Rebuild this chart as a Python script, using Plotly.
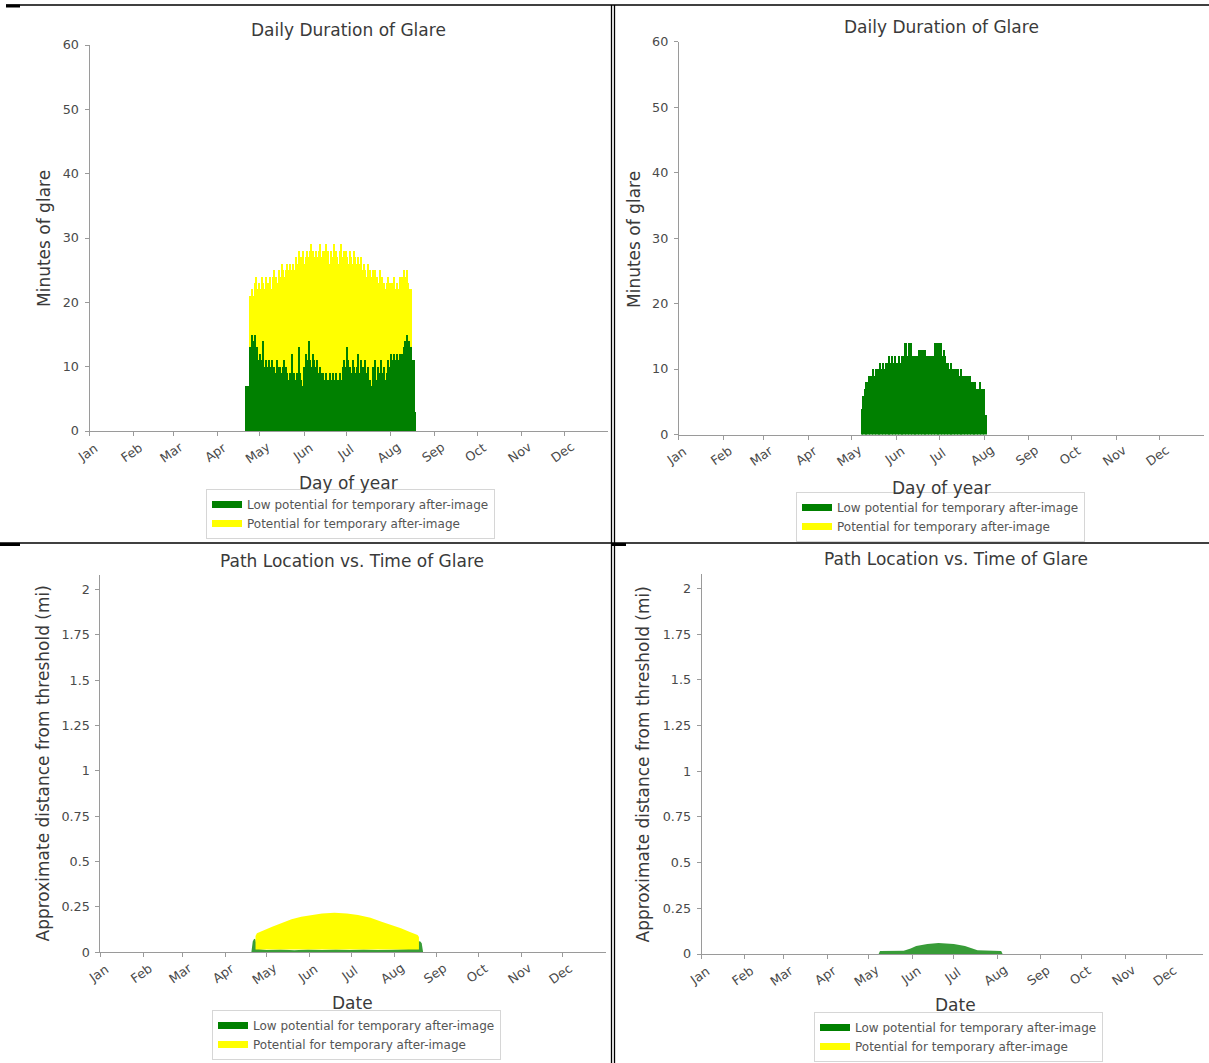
import plotly.graph_objects as go

W, H = 1209, 1063

# ---------------- data ----------------
MONTHS = ["Jan", "Feb", "Mar", "Apr", "May", "Jun", "Jul", "Aug", "Sep", "Oct", "Nov", "Dec"]
MONTH_START_DAYS = [0, 31, 59, 90, 120, 151, 181, 212, 243, 273, 304, 334]

LOW_NAME = "Low potential for temporary after-image"
POT_NAME = "Potential for temporary after-image"

# Panel 1 - daily duration of glare (minutes), days 110..229
p1_days = list(range(110, 230))
p1_low = [
    7, 7, 7, 13, 15, 14, 15, 12, 13, 11,
    12, 11, 14, 10, 11, 10, 11, 10, 11, 10,
    10, 9, 11, 10, 10, 9, 10, 11, 10, 9,
    8, 9, 12, 8, 9, 8, 9, 13, 9, 8,
    7, 10, 12, 11, 14, 11, 10, 12, 11, 10,
    11, 9, 10, 9, 9, 8, 9, 8, 8, 9,
    8, 9, 8, 9, 8, 8, 9, 8, 10, 11,
    10, 13, 11, 10, 9, 11, 10, 9, 10, 12,
    9, 11, 10, 9, 11, 9, 10, 8, 7, 10,
    9, 11, 8, 10, 9, 11, 9, 10, 8, 9,
    11, 10, 12, 11, 12, 11, 12, 11, 12, 11,
    12, 13, 14, 15, 14, 14, 13, 11, 11, 3,
]
p1_total = [
    7, 7, 7, 21, 22, 21, 23, 24, 22, 23,
    22, 24, 23, 22, 24, 23, 23, 24, 22, 24,
    25, 24, 23, 25, 24, 26, 25, 24, 25, 26,
    25, 26, 25, 26, 25, 27, 26, 28, 26, 27,
    28, 26, 27, 28, 27, 28, 29, 28, 27, 28,
    27, 28, 29, 27, 28, 28, 29, 27, 28, 26,
    28, 27, 29, 28, 27, 26, 28, 29, 27, 28,
    28, 27, 26, 28, 27, 26, 28, 27, 26, 27,
    26, 27, 25, 26, 25, 24, 26, 25, 24, 25,
    24, 25, 24, 23, 25, 23, 24, 23, 22, 23,
    24, 23, 22, 23, 24, 22, 23, 22, 24, 23,
    24, 25, 24, 25, 23, 22, 22, 11, 11, 3,
]

# Panel 2 - daily duration of glare (minutes), days 127..213, low potential only
p2_days = list(range(127, 214))
p2_low = [
    4, 6, 7, 8, 8, 9, 9, 9, 10, 9,
    10, 10, 10, 11, 10, 11, 10, 11, 11, 12,
    11, 12, 11, 12, 11, 11, 12, 11, 12, 12,
    14, 14, 12, 14, 14, 12, 12, 12, 12, 12,
    13, 13, 13, 13, 13, 12, 12, 12, 12, 12,
    12, 14, 14, 13, 14, 14, 12, 13, 12, 11,
    11, 10, 11, 10, 10, 10, 10, 10, 9, 10,
    9, 9, 9, 9, 9, 9, 8, 8, 7, 8,
    7, 7, 8, 7, 7, 7, 3,
]

# Panel 3 - path location vs time (mi)
p3_low_days = [109, 110, 111, 112, 113, 120, 130, 140, 150, 160, 170, 180, 190, 200, 210, 220, 227, 228, 229, 231, 232, 233]
p3_low_top = [0.0, 0.06, 0.075, 0.07, 0.02, 0.012, 0.015, 0.011, 0.016, 0.012, 0.016, 0.013, 0.015, 0.012, 0.014, 0.016, 0.02, 0.05, 0.062, 0.06, 0.05, 0.0]
p3_pot_days = [112, 113, 124, 138, 145, 152, 160, 169, 178, 186, 195, 203, 210, 217, 223, 229, 230]
p3_pot_top = [0.09, 0.105, 0.141, 0.182, 0.196, 0.206, 0.214, 0.218, 0.214, 0.206, 0.19, 0.169, 0.152, 0.132, 0.113, 0.095, 0.085]
p3_pot_bottom = [0.015, 0.015, 0.016, 0.015, 0.016, 0.015, 0.016, 0.015, 0.016, 0.015, 0.016, 0.015, 0.016, 0.015, 0.016, 0.015, 0.015]

# Panel 4 - path location vs time (mi), low potential only
p4_days = [127, 128, 145, 150, 154, 162, 170, 181, 189, 194, 198, 215, 216]
p4_low = [0.0, 0.016, 0.018, 0.03, 0.044, 0.055, 0.06, 0.055, 0.044, 0.03, 0.02, 0.016, 0.0]

DIST_TICKS = [0, 0.25, 0.5, 0.75, 1, 1.25, 1.5, 1.75, 2]
DIST_TICKTEXT = ["0", "0.25", "0.5", "0.75", "1", "1.25", "1.5", "1.75", "2"]
MIN_TICKS = [0, 10, 20, 30, 40, 50, 60]

# ---------------- styling ----------------
GREEN = "rgb(0,128,0)"
GREEN_SOFT = "rgba(0,128,0,0.78)"
YELLOW = "rgb(255,255,0)"
FONT = "DejaVu Sans"
AXIS_COL = "#9a9a9a"
TEXT_COL = "#3a3a3a"
TICK_COL = "#4a4a4a"


def fx(px):
    return px / W


def fy(py):
    return 1 - py / H


fig = go.Figure()

# Panel 1 bars (yellow total drawn first, green on top)
fig.add_trace(go.Bar(x=p1_days, y=p1_total, width=1.0, marker=dict(color=YELLOW, line=dict(width=0)),
                     showlegend=False, xaxis="x", yaxis="y"))
fig.add_trace(go.Bar(x=p1_days, y=p1_low, width=1.0, marker=dict(color=GREEN, line=dict(width=0)),
                     showlegend=False, xaxis="x", yaxis="y"))
# Panel 2 bars
fig.add_trace(go.Bar(x=p2_days, y=p2_low, width=1.0, marker=dict(color=GREEN, line=dict(width=0)),
                     showlegend=False, xaxis="x2", yaxis="y2"))
# Panel 3 areas
fig.add_trace(go.Scatter(x=p3_low_days, y=p3_low_top, mode="lines", line=dict(width=0, color=GREEN_SOFT),
                         fill="tozeroy", fillcolor=GREEN_SOFT, showlegend=False, xaxis="x3", yaxis="y3"))
fig.add_trace(go.Scatter(x=p3_pot_days + p3_pot_days[::-1], y=p3_pot_top + p3_pot_bottom[::-1], mode="lines",
                         line=dict(width=0, color=YELLOW), fill="toself", fillcolor=YELLOW,
                         showlegend=False, xaxis="x3", yaxis="y3"))
# Panel 4 area
fig.add_trace(go.Scatter(x=p4_days, y=p4_low, mode="lines", line=dict(width=0, color=GREEN_SOFT),
                         fill="tozeroy", fillcolor=GREEN_SOFT, showlegend=False, xaxis="x4", yaxis="y4"))

# legend proxies
legend_ids = ["legend", "legend2", "legend3", "legend4"]
axes_ids = [("x", "y"), ("x2", "y2"), ("x3", "y3"), ("x4", "y4")]
for lg, (xa, ya) in zip(legend_ids, axes_ids):
    for nm, col in ((LOW_NAME, GREEN), (POT_NAME, YELLOW)):
        fig.add_trace(go.Scatter(x=[None], y=[None], mode="lines", name=nm, line=dict(color=col, width=7),
                                 legend=lg, xaxis=xa, yaxis=ya, hoverinfo="skip"))

base_axis = dict(showgrid=False, zeroline=False, showline=True, linecolor=AXIS_COL, linewidth=1,
                 ticks="outside", ticklen=4, tickwidth=1, tickcolor=AXIS_COL, fixedrange=True,
                 automargin=False, tickfont=dict(family=FONT, size=12.75, color=TICK_COL))

panels = [
    dict(x0=89.5, ppd=1.4207, xmax=365, yb=431, yt=45, yr=[0, 60], tv=MIN_TICKS, tt=[str(v) for v in MIN_TICKS]),
    dict(x0=678.8, ppd=1.44, xmax=365, yb=434.5, yt=41.7, yr=[0, 60], tv=MIN_TICKS, tt=[str(v) for v in MIN_TICKS]),
    dict(x0=100.4, ppd=1.385, xmax=365, yb=952.3, yt=575, yr=[0, 2.08], tv=DIST_TICKS, tt=DIST_TICKTEXT),
    dict(x0=701.7, ppd=1.393, xmax=360, yb=954, yt=573.8, yr=[0, 2.08], tv=DIST_TICKS, tt=DIST_TICKTEXT),
]

layout_axes = {}
annotations = []
for i, p in enumerate(panels):
    sfx = "" if i == 0 else str(i + 1)
    xd = [fx(p["x0"]), min(1.0, fx(p["x0"] + p["xmax"] * p["ppd"]))]
    yd = [fy(p["yb"]), fy(p["yt"])]
    layout_axes["xaxis" + sfx] = dict(base_axis, domain=xd, range=[0, p["xmax"]], anchor="y" + sfx,
                                      tickvals=MONTH_START_DAYS, showticklabels=False)
    layout_axes["yaxis" + sfx] = dict(base_axis, domain=yd, range=p["yr"], anchor="x" + sfx,
                                      tickvals=p["tv"], ticktext=p["tt"], ticklabelstandoff=3)
    for m, d in zip(MONTHS, MONTH_START_DAYS):
        annotations.append(dict(x=d, xref="x" + sfx, y=fy(p["yb"] + 21), yref="paper", text=m,
                                textangle=-35, showarrow=False, xanchor="center", yanchor="middle",
                                xshift=-2, font=dict(family=FONT, size=12.75, color=TICK_COL)))

labels = [
    ("Daily Duration of Glare", 348, 30, 0),
    ("Day of year", 348, 483, 0),
    ("Minutes of glare", 44, 239, -90),
    ("Daily Duration of Glare", 941.5, 27, 0),
    ("Day of year", 941.5, 487.5, 0),
    ("Minutes of glare", 634, 239, -90),
    ("Path Location vs. Time of Glare", 352, 561, 0),
    ("Date", 352, 1002.5, 0),
    ("Approximate distance from threshold (mi)", 42.5, 764, -90),
    ("Path Location vs. Time of Glare", 955.5, 559, 0),
    ("Date", 955, 1005, 0),
    ("Approximate distance from threshold (mi)", 642.5, 765, -90),
]
for txt, x, y, ang in labels:
    annotations.append(dict(x=fx(x), y=fy(y), xref="paper", yref="paper", text=txt, textangle=ang,
                            showarrow=False, xanchor="center", yanchor="middle",
                            font=dict(family=FONT, size=17, color=TEXT_COL)))

# legend boxes: left px, bottom px (anchored at bottom so they never push margins)
legend_pos = [(206, 539), (796, 542), (212, 1060), (814, 1062)]
legend_style = dict(xanchor="left", yanchor="bottom", bgcolor="white", bordercolor="#d6d6d6", borderwidth=1,
                    font=dict(family=FONT, size=12, color="#555555"), itemwidth=30, tracegroupgap=0,
                    traceorder="normal")
legends = {}
for lg, (lx, ly) in zip(legend_ids, legend_pos):
    legends[lg] = dict(legend_style, x=fx(lx), y=fy(ly))

shapes = []
def hline(y, x0, x1, w):
    shapes.append(dict(type="line", xref="paper", yref="paper", x0=fx(x0), x1=fx(x1), y0=fy(y), y1=fy(y),
                       line=dict(color="black", width=w)))

def vline(x, y0, y1, w):
    shapes.append(dict(type="line", xref="paper", yref="paper", x0=fx(x), x1=fx(x), y0=fy(y0), y1=fy(y1),
                       line=dict(color="black", width=w)))

hline(5, 6, 1209, 1.3)
hline(6, 6, 20, 3)
vline(611.5, 5, 1063, 1.3)
vline(614.5, 5, 1063, 1.3)
hline(543, 0, 1209, 1.5)
hline(544.5, 0, 20, 3)
hline(544.5, 612, 626, 3)

fig.update_layout(
    width=W, height=H, margin=dict(l=0, r=0, t=0, b=0, autoexpand=False), autosize=False,
    paper_bgcolor="white", plot_bgcolor="white",
    barmode="overlay", bargap=0,
    annotations=annotations, shapes=shapes,
    **layout_axes, **legends,
)

fig.write_html("out.html", config={"displayModeBar": False, "responsive": False},
               post_script="document.body.style.margin='0px';document.body.style.overflow='hidden';")
